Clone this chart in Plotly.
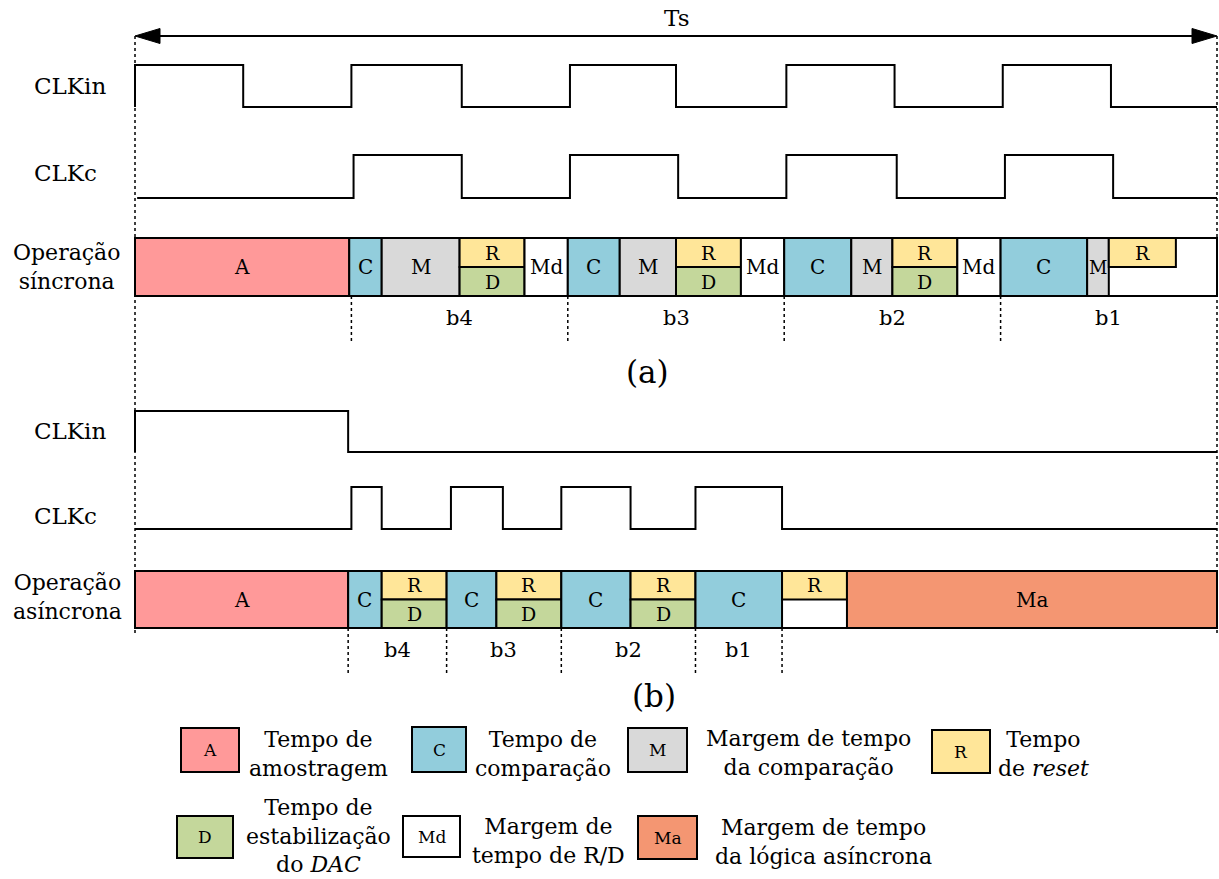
import plotly.graph_objects as go

# ---------------------------------------------------------------------------
# Timing data (time in units of the CLKin period; one conversion TS = 5 periods)
# ---------------------------------------------------------------------------
TS = 5.0

# Synchronous SAR: clock waveforms as (edge time, level after edge)
clkin_sync_t = [0.0, 0.0, 0.50, 1.00, 1.51, 2.01, 2.50, 3.01, 3.51, 4.01, 4.51, 5.00]
clkin_sync_v = [0, 1, 0, 1, 0, 1, 0, 1, 0, 1, 0, 0]
clkc_sync_t = [0.01, 1.01, 1.51, 2.01, 2.51, 3.01, 3.52, 4.02, 4.52, 5.00]
clkc_sync_v = [0, 1, 0, 1, 0, 1, 0, 1, 0, 0]

# Asynchronous SAR clock waveforms
clkin_async_t = [0.0, 0.0, 0.985, 5.00]
clkin_async_v = [0, 1, 0, 0]
clkc_async_t = [0.0, 1.00, 1.14, 1.46, 1.70, 1.97, 2.29, 2.59, 2.99, 5.00]
clkc_async_v = [0, 1, 0, 1, 0, 1, 0, 1, 0, 0]

# Operation phases: (phase, start, end); "RD" = reset over DAC settling,
# "R" = reset only (upper half)
sync_phases = [
    ("A", 0.00, 0.99), ("C", 0.99, 1.14), ("M", 1.14, 1.50), ("RD", 1.50, 1.80), ("Md", 1.80, 2.00),
    ("C", 2.00, 2.24), ("M", 2.24, 2.50), ("RD", 2.50, 2.80), ("Md", 2.80, 3.00),
    ("C", 3.00, 3.31), ("M", 3.31, 3.50), ("RD", 3.50, 3.80), ("Md", 3.80, 4.00),
    ("C", 4.00, 4.40), ("M", 4.40, 4.50), ("R", 4.50, 4.81),
]
async_phases = [
    ("A", 0.00, 0.985), ("C", 0.985, 1.14), ("RD", 1.14, 1.44),
    ("C", 1.44, 1.67), ("RD", 1.67, 1.97),
    ("C", 1.97, 2.29), ("RD", 2.29, 2.59),
    ("C", 2.59, 2.99), ("R", 2.99, 3.29), ("Ma", 3.29, 5.00),
]

# Bit decision windows
bit_labels = ["b4", "b3", "b2", "b1"]
sync_bit_edges = [1.00, 2.00, 3.00, 4.00, 5.00]
async_bit_edges = [0.985, 1.44, 1.97, 2.59, 2.99]

# Legend entries: key, description
legend_items = [
    ("A", "Tempo de<br>amostragem"),
    ("C", "Tempo de<br>comparação"),
    ("M", "Margem de tempo<br>da comparação"),
    ("R", "Tempo<br>de <i>reset</i>"),
    ("D", "Tempo de<br>estabilização<br>do <i>DAC</i>"),
    ("Md", "Margem de<br>tempo de R/D"),
    ("Ma", "Margem de tempo<br>da lógica asíncrona"),
]

COLORS = {
    "A": "#FF9999", "C": "#92CDDC", "M": "#D9D9D9", "R": "#FFE699",
    "D": "#C4D79B", "Md": "#FFFFFF", "Ma": "#F49672",
}

# ---------------------------------------------------------------------------
# Layout geometry (pixels on the 1219 x 879 canvas)
# ---------------------------------------------------------------------------
W, H = 1219, 879
X0_PX, PX_PER_T = 135.0, 216.4
FONT = "DejaVu Serif, serif"

def px_x(px):
    return px / W

row_sync = dict(clkin=(65, 107), clkc=(155, 198), bar=(238, 296), bits_y=318, sep=(296, 343))
row_async = dict(clkin=(411, 452), clkc=(487, 529), bar=(571, 628), bits_y=650, sep=(628, 675))

fig = go.Figure()
shapes, annotations = [], []


def wave(ts, vs, hi_lo):
    hi, lo = hi_lo
    ys = [lo - v * (lo - hi) for v in vs]
    fig.add_trace(go.Scatter(x=ts, y=ys, mode="lines", line=dict(color="black", width=2, shape="hv"),
                             hoverinfo="skip", showlegend=False))


def rect(x0, x1, y0, y1, color, lw=2):
    shapes.append(dict(type="rect", xref="x", yref="y", x0=x0, x1=x1, y0=y0, y1=y1,
                       fillcolor=color, line=dict(color="black", width=lw), layer="above"))


def label(x, y, text, size, xref="x", xanchor="center"):
    annotations.append(dict(x=x, y=y, xref=xref, yref="y", text=text, showarrow=False,
                            xanchor=xanchor, yanchor="middle",
                            font=dict(family=FONT, size=size, color="black")))


def phase_bar(phases, bar, full_end):
    top, bot = bar
    mid = (top + bot) / 2
    rect(0, full_end, top, bot, "white")
    for key, t0, t1 in phases:
        xc = (t0 + t1) / 2
        if key == "RD":
            rect(t0, t1, top, mid, COLORS["R"])
            rect(t0, t1, mid, bot, COLORS["D"])
            label(xc, (top + mid) / 2, "R", 19)
            label(xc, (mid + bot) / 2, "D", 19)
        elif key == "R":
            rect(t0, t1, top, mid, COLORS["R"])
            label(xc, (top + mid) / 2, "R", 19)
        else:
            rect(t0, t1, top, bot, COLORS[key])
            size = 20 if key != "M" or (t1 - t0) > 0.15 else 18
            label(xc, (top + bot) / 2, key, size)


def bit_names(edges, row):
    for name, t0, t1 in zip(bit_labels, edges[:-1], edges[1:]):
        label((t0 + t1) / 2, row["bits_y"], name, 21)


def separators(times, row):
    for t in times:
        shapes.append(dict(type="line", xref="x", yref="y", x0=t, x1=t, y0=row["sep"][0], y1=row["sep"][1],
                           line=dict(color="black", width=1.5, dash="dot")))


# Clock waveforms
wave(clkin_sync_t, clkin_sync_v, row_sync["clkin"])
wave(clkc_sync_t, clkc_sync_v, row_sync["clkc"])
wave(clkin_async_t, clkin_async_v, row_async["clkin"])
wave(clkc_async_t, clkc_async_v, row_async["clkc"])

# Operation bars
phase_bar(sync_phases, row_sync["bar"], TS)
phase_bar(async_phases, row_async["bar"], TS)
bit_names(sync_bit_edges, row_sync)
separators(sync_bit_edges[:-1], row_sync)
bit_names(async_bit_edges, row_async)
separators(async_bit_edges, row_async)

# Conversion period boundaries and the TS arrow
for t in (0.0, TS):
    shapes.append(dict(type="line", xref="x", yref="y", x0=t, x1=t, y0=36, y1=636,
                       line=dict(color="black", width=1.5, dash="dot"), layer="below"))
ARROW_Y, HEAD_L, HEAD_H = 36, 25 / PX_PER_T, 7.5
shapes.append(dict(type="line", xref="x", yref="y", x0=HEAD_L, x1=TS - HEAD_L, y0=ARROW_Y, y1=ARROW_Y,
                   line=dict(color="black", width=2)))
shapes.append(dict(type="path", xref="x", yref="y", fillcolor="black", line=dict(color="black", width=1),
                   path=f"M 0,{ARROW_Y} L {HEAD_L},{ARROW_Y - HEAD_H} L {HEAD_L},{ARROW_Y + HEAD_H} Z"))
shapes.append(dict(type="path", xref="x", yref="y", fillcolor="black", line=dict(color="black", width=1),
                   path=f"M {TS},{ARROW_Y} L {TS - HEAD_L},{ARROW_Y - HEAD_H} L {TS - HEAD_L},{ARROW_Y + HEAD_H} Z"))
label(TS / 2, 18, "Ts", 23)

# Row titles
label(px_x(32), 86, "CLKin", 23, xref="paper", xanchor="left")
label(px_x(32), 173, "CLKc", 23, xref="paper", xanchor="left")
label(px_x(66), 267, "Operação<br>síncrona", 22, xref="paper")
label(px_x(32), 431, "CLKin", 23, xref="paper", xanchor="left")
label(px_x(32), 516, "CLKc", 23, xref="paper", xanchor="left")
label(px_x(67), 597, "Operação<br>asíncrona", 22, xref="paper")

# Sub-figure captions
label(TS / 2 - 0.13, 372, "(a)", 31)
label(TS / 2 - 0.10, 696, "(b)", 31)

# Legend
legend_pos = {  # box x0, x1, y0, y1, text centre x, text centre y
    "A": (181, 239, 728, 772, 318, 754),
    "C": (412, 466, 727, 772, 543, 754),
    "M": (628, 687, 728, 772, 808, 753),
    "R": (932, 990, 730, 773, 1043, 754),
    "D": (177, 233, 816, 858, 318, 836),
    "Md": (403, 460, 816, 857, 548, 841),
    "Ma": (638, 697, 816, 859, 823, 842),
}
for key, desc in legend_items:
    bx0, bx1, by0, by1, tx, ty = legend_pos[key]
    shapes.append(dict(type="rect", xref="paper", yref="y", x0=px_x(bx0), x1=px_x(bx1), y0=by0, y1=by1,
                       fillcolor=COLORS[key], line=dict(color="black", width=2)))
    label(px_x((bx0 + bx1) / 2), (by0 + by1) / 2, key, 17, xref="paper")
    label(px_x(tx), ty, desc, 22, xref="paper")

fig.update_layout(
    width=W, height=H, margin=dict(l=0, r=0, t=0, b=0),
    paper_bgcolor="white", plot_bgcolor="white",
    xaxis=dict(range=[-X0_PX / PX_PER_T, (W - X0_PX) / PX_PER_T], visible=False, fixedrange=True),
    yaxis=dict(range=[H, 0], visible=False, fixedrange=True),
    shapes=shapes, annotations=annotations, showlegend=False,
)

fig.write_html("out.html")
